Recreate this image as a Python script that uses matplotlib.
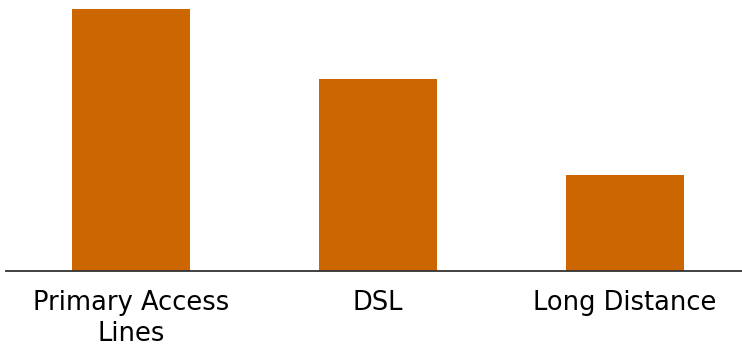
import matplotlib
matplotlib.use('Agg')
import matplotlib.pyplot as plt

categories = ['Primary Access\nLines', 'DSL', 'Long Distance']
values = [100, 73.3, 36.6]

bar_color = '#CC6600'

fig = plt.figure(figsize=(7.42, 3.49), dpi=100)
ax = fig.add_axes([6 / 742, 78 / 349, 736 / 742, 271 / 349])

x = range(len(categories))
ax.bar(x, values, width=0.478, color=bar_color)

ax.set_xlim(-0.506, 2.476)
ax.set_ylim(0, 100 * 271 / 262)

for side in ['top', 'right', 'left']:
    ax.spines[side].set_visible(False)
ax.spines['bottom'].set_color('#333333')
ax.spines['bottom'].set_linewidth(1.3)

ax.set_yticks([])
ax.set_xticks(list(x))
ax.set_xticklabels(categories, fontsize=18.5, family='DejaVu Sans', linespacing=1.22)
ax.tick_params(axis='x', length=0, pad=14)

fig.savefig('out.png', dpi=100)
